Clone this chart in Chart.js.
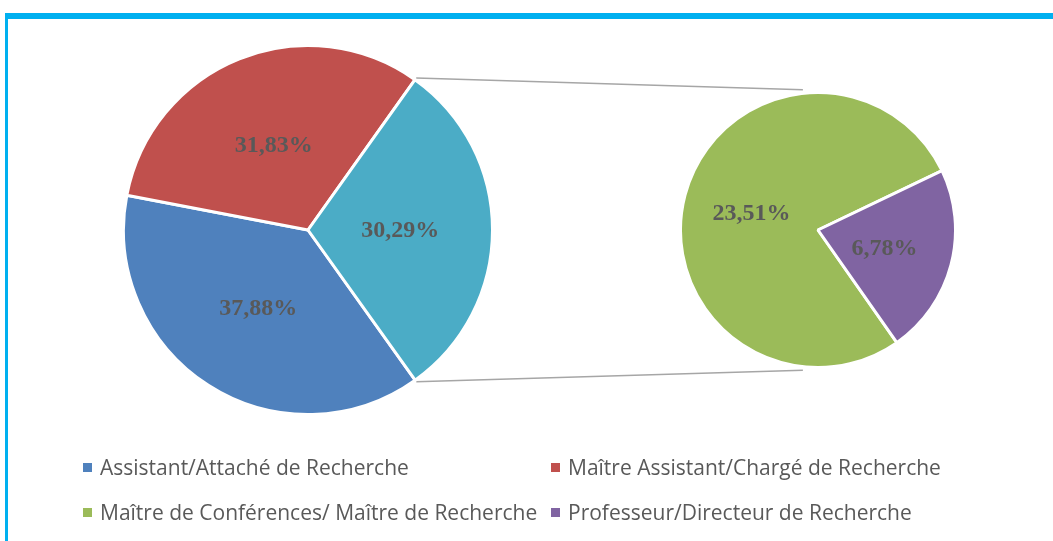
<!DOCTYPE html>
<html>
<head>
<meta charset="utf-8">
<script src="https://cdn.jsdelivr.net/npm/chart.js@4.4.0/dist/chart.umd.min.js"></script>
<style>
    body { margin: 0; width: 1053px; height: 541px; background: #fff; overflow: hidden; position: relative; }
    #frame { position: absolute; left: 5px; top: 13px; width: 1100px; height: 600px;
             border-top: 6px solid #00b0f0; border-left: 3px solid #00b0f0; }
    #lines { position: absolute; left: 0; top: 0; }
    #mainPie { position: absolute; left: 122px; top: 44px; }
    #subPie { position: absolute; left: 679px; top: 91px; }
    .item { position: absolute; font-family: "Open Sans", sans-serif; font-size: 21px;
            line-height: 27px; color: #595959; white-space: nowrap; }
    .item i { position: absolute; width: 9px; height: 9px; left: -17px; top: 9px; }
</style>
</head>
<body>
<div id="frame"></div>
<canvas id="lines" width="1053" height="541"></canvas>
<canvas id="mainPie" width="372" height="372"></canvas>
<canvas id="subPie" width="278" height="278"></canvas>
<div id="legend"></div>

<script>
// main pie: the third slice is split out in the second pie
const mainLabels = ["Assistant/Attaché de Recherche", "Maître Assistant/Chargé de Recherche", "Autres"];
const mainValues = [37.88, 31.83, 30.29];
const mainColors = ['#4F81BD', '#C0504D', '#4BACC6'];

const subLabels = ["Maître de Conférences/ Maître de Recherche", "Professeur/Directeur de Recherche"];
const subValues = [23.51, 6.78];
const subColors = ['#9BBB59', '#8064A2'];

// percent labels in the middle of each slice
const pctLabels = {
    id: 'pctLabels',
    afterDatasetsDraw(chart) {
        const ctx = chart.ctx;
        const meta = chart.getDatasetMeta(0);
        ctx.save();
        ctx.font = 'bold 24px "Liberation Serif", "Times New Roman", serif';
        ctx.fillStyle = '#595959';
        ctx.textAlign = 'center';
        ctx.textBaseline = 'middle';
        meta.data.forEach((arc, i) => {
            const p = arc.tooltipPosition();
            const v = chart.data.datasets[0].data[i];
            ctx.fillText(v.toFixed(2).replace('.', ',') + '%', p.x, p.y + 1);
        });
        ctx.restore();
    }
};

function pieOptions(rotation) {
    return {
        responsive: false,
        animation: false,
        rotation: rotation,
        layout: { padding: 0 },
        plugins: { legend: { display: false }, tooltip: { enabled: false } }
    };
}

const mainChart = new Chart(document.getElementById('mainPie'), {
    type: 'pie',
    data: {
        labels: mainLabels,
        datasets: [{ data: mainValues, backgroundColor: mainColors, borderColor: '#fff', borderWidth: 3 }]
    },
    options: pieOptions(144.5),
    plugins: [pctLabels]
});

const subChart = new Chart(document.getElementById('subPie'), {
    type: 'pie',
    data: {
        labels: subLabels,
        datasets: [{ data: subValues, backgroundColor: subColors, borderColor: '#fff', borderWidth: 3 }]
    },
    options: pieOptions(145),
    plugins: [pctLabels]
});

// connector lines from the split slice to the second pie
(function drawLines() {
    const ctx = document.getElementById('lines').getContext('2d');
    const m = document.getElementById('mainPie');
    const s = document.getElementById('subPie');
    const arc = mainChart.getDatasetMeta(0).data[2];
    const sub = subChart.getDatasetMeta(0).data[0];
    const mx = m.offsetLeft + arc.x, my = m.offsetTop + arc.y;
    const sx = s.offsetLeft + sub.x, sy = s.offsetTop + sub.y;
    const r = arc.outerRadius + 2, R = sub.outerRadius;
    ctx.strokeStyle = '#a6a6a6';
    ctx.lineWidth = 1.5;
    ctx.beginPath();
    ctx.moveTo(mx + r * Math.cos(arc.startAngle), my + r * Math.sin(arc.startAngle));
    ctx.lineTo(sx - R * 0.11, sy - R * 1.02);
    ctx.moveTo(mx + r * Math.cos(arc.endAngle), my + r * Math.sin(arc.endAngle));
    ctx.lineTo(sx - R * 0.11, sy + R * 1.02);
    ctx.stroke();
})();

// legend: main slices (without the split one) then the second pie slices
const legendItems = [
    { text: mainLabels[0], color: mainColors[0] },
    { text: mainLabels[1], color: mainColors[1] },
    { text: subLabels[0], color: subColors[0] },
    { text: subLabels[1], color: subColors[1] }
];
const legendX = [100, 568];
const legendY = [454, 499];
const legend = document.getElementById('legend');
legendItems.forEach((it, i) => {
    const d = document.createElement('div');
    d.className = 'item';
    d.style.left = legendX[i % 2] + 'px';
    d.style.top = legendY[Math.floor(i / 2)] + 'px';
    d.innerHTML = '<i style="background:' + it.color + '"></i>' + it.text;
    legend.appendChild(d);
});
</script>
</body>
</html>
